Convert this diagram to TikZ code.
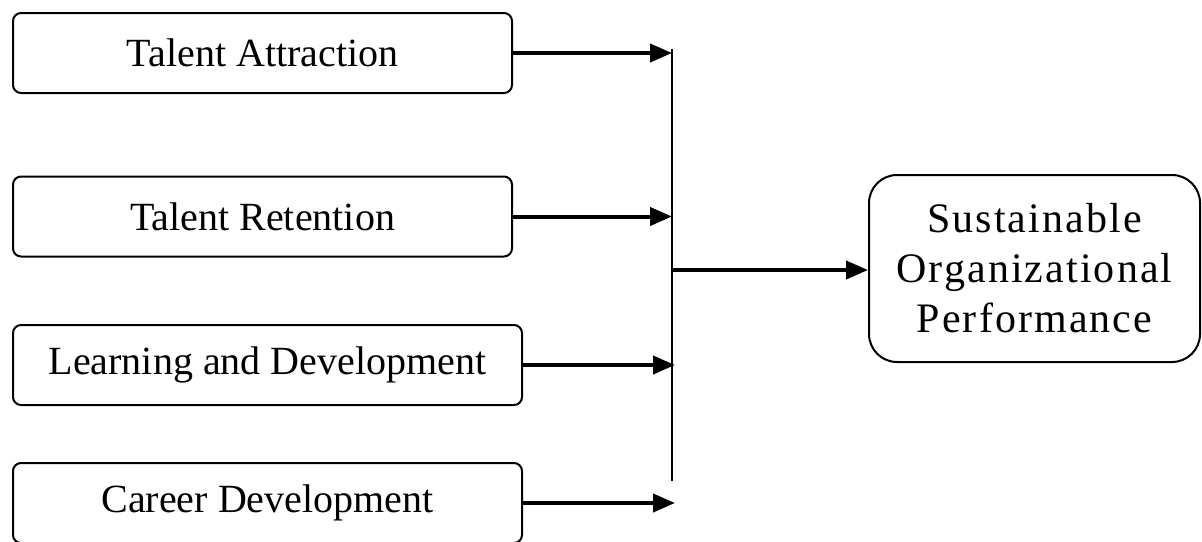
\documentclass[tikz,border=0pt]{standalone}
\usepackage{fontspec}
\setmainfont{Liberation Serif}
\usetikzlibrary{positioning,calc}
\usetikzlibrary{arrows.meta}

\tikzset{
  factor/.style={draw,line width=1pt,rounded corners=4pt,minimum height=40pt,
    inner sep=0pt,font=\fontsize{20}{24}\selectfont},
  outcome/.style={draw,line width=1pt,rounded corners=14pt,align=center,
    minimum width=165.5pt,minimum height=93.5pt,inner sep=0pt,
    font=\fontsize{21}{25}\selectfont\addfontfeature{LetterSpace=5}},
  feed/.style={line width=2pt,-{Triangle[length=11pt,width=9pt]}},
}

\begin{document}
\begin{tikzpicture}[x=0.5pt,y=-0.5pt]
  \useasboundingbox (0,0) rectangle (1202,541);

  \node (attraction) at (262.5,53) [factor,minimum width=249.5pt] {Talent Attraction};
  \node (retention) at (262.5,216.5) [factor,minimum width=249.5pt] {Talent Retention};
  \node (learning) at (267.5,365) [factor,minimum width=254.5pt] {Learning and Development};
  \node (career) at (267.5,503) [factor,minimum width=254.5pt] {Career Development};
  \node (performance) at (1034.5,268.5) [outcome] {Sustainable\\Organizational\\Performance};

  % collecting bar
  \coordinate (bartop) at (672,49);
  \coordinate (barbottom) at (672,481);
  \coordinate (hub) at (672,270);
  \draw[line width=1pt] (bartop) -- (barbottom);

  \draw[feed] (attraction.east) -- (attraction.east -| bartop);
  \draw[feed] (retention.east) -- (retention.east -| bartop);
  \draw[feed] (learning.east) -- ($(learning.east -| bartop)+(3,0)$);
  \draw[feed] (career.east) -- ($(career.east -| bartop)+(3,0)$);
  \draw[feed] (hub) -- (hub -| performance.west);
\end{tikzpicture}
\end{document}
